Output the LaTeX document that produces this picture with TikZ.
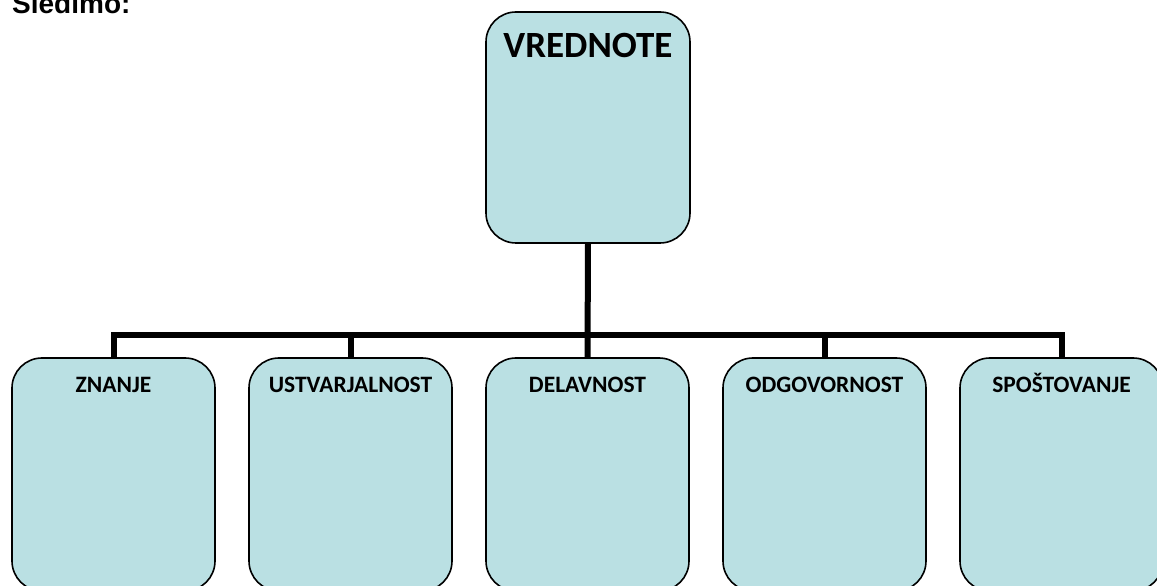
\documentclass[tikz,border=0pt]{standalone}
\usepackage{fontspec}
\setmainfont{Carlito}
\newfontfamily\headfont{Liberation Sans}
\usepackage{xcolor}
\definecolor{boxfill}{RGB}{186,224,227}

\tikzset{
  valbox/.style={draw=black, line width=1.6pt, fill=boxfill, rounded corners=30pt,
    minimum width=203pt, minimum height=233pt, inner sep=0pt, outer sep=0pt},
  conn/.style={draw=black, line width=6pt},
}

\begin{document}
\begin{tikzpicture}[x=1pt, y=1pt]
  \useasboundingbox (0,0) rectangle (1157,586);

  \node[anchor=base west, inner sep=0pt, font=\headfont\bfseries\fontsize{28}{30}\selectfont] (title) at (12,572) {Sledimo:};

  \node[valbox, minimum width=204pt, minimum height=231pt,
    label={[anchor=base, yshift=-46pt, font=\bfseries\fontsize{37}{40}\selectfont]north:VREDNOTE}]
    (vrednote) at (588,458.5) {};

  \node[valbox, label={[anchor=base, yshift=-35pt, font=\bfseries\fontsize{23.5}{26}\selectfont]north:ZNANJE}]
    (znanje) at (113.5,111.5) {};
  \node[valbox, label={[anchor=base, yshift=-35pt, font=\bfseries\fontsize{23.5}{26}\selectfont]north:USTVARJALNOST}]
    (ustvarjalnost) at (350.5,111.5) {};
  \node[valbox, label={[anchor=base, yshift=-35pt, font=\bfseries\fontsize{23.5}{26}\selectfont]north:DELAVNOST}]
    (delavnost) at (587.5,111.5) {};
  \node[valbox, label={[anchor=base, yshift=-35pt, font=\bfseries\fontsize{23.5}{26}\selectfont]north:ODGOVORNOST}]
    (odgovornost) at (824.5,111.5) {};
  \node[valbox, label={[anchor=base, yshift=-35pt, font=\bfseries\fontsize{23.5}{26}\selectfont]north:SPOŠTOVANJE}]
    (spostovanje) at (1061.5,111.5) {};

  \coordinate (bus) at (588,251);

  \draw[conn] (vrednote.south) -- (delavnost.north);
  \draw[conn] (znanje.north) |- (bus) -| (spostovanje.north);
  \foreach \n in {ustvarjalnost, odgovornost}
    \draw[conn] (\n.north) -- (\n.north |- bus);
\end{tikzpicture}
\end{document}
